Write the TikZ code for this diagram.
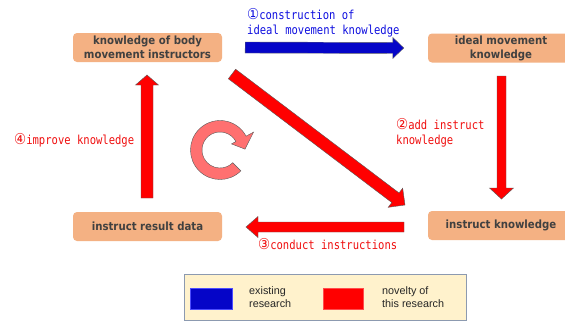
\documentclass[tikz,border=0pt]{standalone}
\usepackage{fontspec}
\usetikzlibrary{calc}
\newfontfamily\boxfont[FakeStretch=0.9]{DejaVu Sans}
\newfontfamily\labfont[FakeStretch=0.85]{DejaVu Sans Mono}
\newfontfamily\circfont[FakeStretch=0.9]{DejaVu Sans}
\newfontfamily\legfont{Liberation Sans}
\definecolor{boxfill}{HTML}{F4B183}
\definecolor{boxtext}{HTML}{404040}
\definecolor{labblue}{HTML}{1010E0}
\definecolor{labred}{HTML}{F01010}
\definecolor{arrblue}{HTML}{0505C8}
\definecolor{arrred}{HTML}{FF0000}
\definecolor{cycfill}{HTML}{FF7070}
\definecolor{legfill}{HTML}{FFF2CC}
\definecolor{legdraw}{HTML}{8C9AB0}
\newcommand{\blockarrow}[6]{%
  \coordinate (ba-h) at ($(#2)!#5!(#1)$);
  \filldraw[#6] ($(#1)!#3!90:(#2)$) -- ($(ba-h)!#3!-90:(#1)$) -- ($(ba-h)!#4!-90:(#1)$)
    -- (#2) -- ($(ba-h)!#4!90:(#1)$) -- ($(ba-h)!#3!90:(#1)$) -- ($(#1)!#3!-90:(#2)$) -- cycle;}
\newcommand{\cnum}[1]{{\circfont\fontsize{15}{15}\selectfont #1}}
\tikzset{
  kbox/.style={rounded corners=4pt, fill=boxfill, draw=none, text=boxtext, align=center,
    inner sep=0pt, minimum height=29pt,
    font=\boxfont\bfseries\fontsize{11.3}{14}\selectfont},
  lab/.style={anchor=base west, align=left, inner sep=0pt,
    font=\labfont\fontsize{12.4}{15}\selectfont},
  blueA/.style={fill=arrblue, draw=black!60, line width=0.4pt},
  redA/.style={fill=arrred, draw=black!65, line width=0.4pt},
  legtxt/.style={anchor=base west, align=left, inner sep=0pt, text=black!85,
    font=\legfont\fontsize{10.8}{13.5}\selectfont},
}
\begin{document}
\begin{tikzpicture}[x=1pt,y=-1pt]
\clip (0,0) rectangle (565,322);
\fill[white] (0,0) rectangle (565,322);
% boxes
\node[kbox, minimum width=149pt] (kb) at (147.5,47.5) {knowledge of body\\movement instructors};
\node[kbox, minimum width=146pt] (ideal) at (501,48) {ideal movement\\knowledge};
\node[kbox, minimum width=146pt] (ik) at (501,225.5) {instruct knowledge};
\node[kbox, minimum width=149pt] (ird) at (147.5,226.5) {instruct result data};
% arrow end points
\coordinate (b1s) at ($(kb.east)+(23,0)$);
\coordinate (b1e) at ($(ideal.west)+(-24,0)$);
\coordinate (r2s) at (501.5,76);
\coordinate (r2e) at (501.5,199);
\coordinate (r3s) at (404,227);
\coordinate (r3e) at (246,227);
\coordinate (r4s) at (147,198);
\coordinate (r4e) at (147,75);
\coordinate (dgs) at (232,74);
\coordinate (dge) at (405,205);
% arrows
\blockarrow{b1s}{b1e}{5.5pt}{10.5pt}{11pt}{blueA}
\blockarrow{r2s}{r2e}{4.5pt}{12pt}{11pt}{redA}
\blockarrow{r3s}{r3e}{5pt}{10.5pt}{12pt}{redA}
\blockarrow{r4s}{r4e}{6pt}{11.5pt}{10pt}{redA}
\blockarrow{dgs}{dge}{6pt}{12pt}{12pt}{redA}
% circular arrow
\coordinate (cyc) at (220,150);
\filldraw[fill=cycfill, draw=black!65, line width=0.4pt]
  ($(cyc)+(45:29.5)$) arc[start angle=45, end angle=332, radius=29.5]
  -- ($(cyc)+(332:38)$) -- ($(cyc)+(358:25)$) -- ($(cyc)+(332:13)$)
  -- ($(cyc)+(332:18)$) arc[start angle=332, end angle=45, radius=18] -- cycle;
% labels (base = baseline of last line)
\node[lab, text=labblue] (l1) at (247,34) {\cnum{①}construction of\\ideal movement knowledge};
\node[lab, text=labred] (l2) at (396,144) {\cnum{②}add instruct\\knowledge};
\node[lab, text=labred] (l3) at (258,249) {\cnum{③}conduct instructions};
\node[lab, text=labred] (l4) at (14,144) {\cnum{④}improve knowledge};
% legend
\node[draw=legdraw, line width=1pt, fill=legfill, minimum width=282pt, minimum height=46pt, inner sep=0pt] (legend) at (325,297) {};
\node[fill=arrblue, draw=blue!70!white, line width=0.4pt, minimum width=42pt, minimum height=21pt, inner sep=0pt] (sqb) at (211,298.5) {};
\node[fill=arrred, draw=red!70!white, line width=0.4pt, minimum width=40.6pt, minimum height=21pt, inner sep=0pt] (sqr) at (343,298.5) {};
\node[legtxt] (t1) at (249,307.5) {existing\\research};
\node[legtxt] (t2) at (382,307.5) {novelty of\\this research};
\end{tikzpicture}
\end{document}
